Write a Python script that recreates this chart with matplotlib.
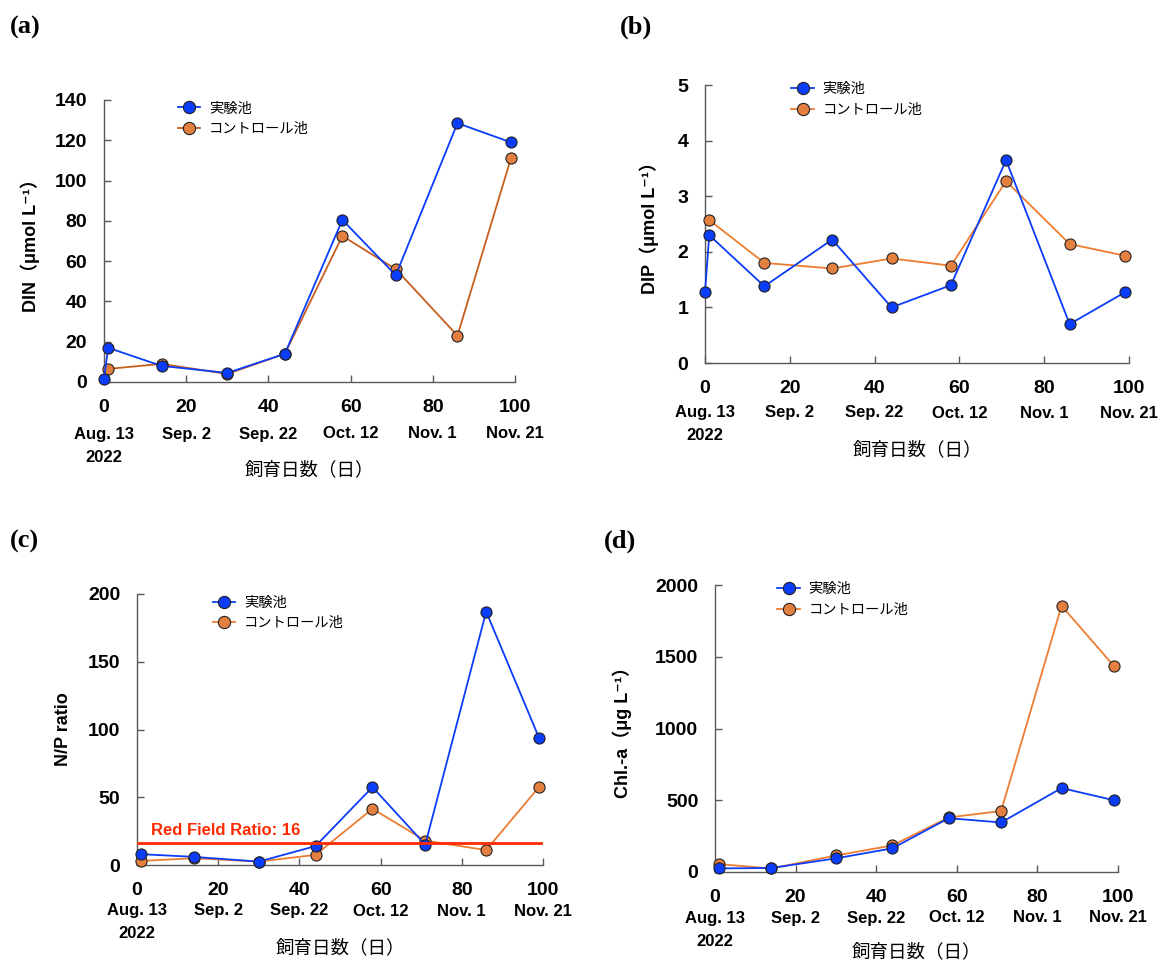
import matplotlib
matplotlib.use('Agg')
import matplotlib.pyplot as plt
from matplotlib.ticker import MultipleLocator

plt.rcParams['font.family'] = ['Liberation Sans', 'Noto Sans CJK JP', 'DejaVu Sans']

# sampling days (day 0 = Aug. 13 2022)
days_exp = [0, 1, 14, 30, 44, 58, 71, 86, 99]
days_ctl = [1, 14, 30, 44, 58, 71, 86, 99]
days_np = [1, 14, 30, 44, 58, 71, 86, 99]

din_exp = [1.5, 17, 8, 4.5, 14, 80.5, 53, 128.5, 119]
din_ctl = [6.5, 9, 4, 14, 72.5, 56, 23, 111]

dip_exp = [1.27, 2.3, 1.38, 2.22, 1.0, 1.4, 3.65, 0.7, 1.27]
dip_ctl = [2.57, 1.8, 1.7, 1.88, 1.75, 3.27, 2.14, 1.93]

np_exp = [8, 6, 2.5, 14, 57.5, 15, 187, 94]
np_ctl = [3, 5, 2.5, 7.5, 41.5, 18, 11, 57.5]

chl_exp = [25, 28, 95, 165, 375, 345, 585, 500]
chl_ctl = [55, 25, 115, 185, 380, 425, 1855, 1435]

redfield = 16

xticks = [0, 20, 40, 60, 80, 100]
date_labels = ['Aug. 13', 'Sep. 2', 'Sep. 22', 'Oct. 12', 'Nov. 1', 'Nov. 21']
year_label = '2022'

lab_exp = '実験池'
lab_ctl = 'コントロール池'
xlab = '飼育日数（日）'

BLUE = '#0B3CF7'
ORANGE = '#E3803F'
ORANGE_DARK = '#C85E1E'
ORANGE_LINE = '#ED7D31'
GRAY = '#595959'

W, H = 1161, 961
fig = plt.figure(figsize=(W / 100, H / 100), dpi=100)
PT = 0.72  # points per pixel at dpi 100


def px_axes(l, r, t, b):
    return fig.add_axes([l / W, 1 - b / H, (r - l) / W, (b - t) / H])


def panel(ax, xe, ye, xc, yc, ymax, ystep, ylabel, lab_px, ctl_line, leg_xy,
          date_px, xlab_px):
    ax.plot(xc, yc, '-o', color=ctl_line, mfc=ORANGE, mec='#222222', mew=0.8,
            ms=8, lw=1.3, clip_on=False, zorder=3, label=lab_ctl)
    ax.plot(xe, ye, '-o', color=BLUE, mfc=BLUE, mec='#222222', mew=0.8,
            ms=8, lw=1.3, clip_on=False, zorder=4, label=lab_exp)
    ax.set_xlim(0, 100)
    ax.set_ylim(0, ymax)
    ax.set_xticks(xticks)
    ax.yaxis.set_major_locator(MultipleLocator(ystep))
    for s in ['top', 'right']:
        ax.spines[s].set_visible(False)
    for s in ['left', 'bottom']:
        ax.spines[s].set_color(GRAY)
        ax.spines[s].set_linewidth(1.0)
    ax.tick_params(direction='in', length=5, width=1.0, color=GRAY,
                   labelsize=14)
    ax.tick_params(axis='y', pad=12)
    ax.tick_params(axis='x', pad=12)
    for lb in ax.get_xticklabels() + ax.get_yticklabels():
        lb.set_fontweight('bold')
    for x, d in zip(xticks, date_labels):
        ax.annotate(d, xy=(x, 0), xycoords=('data', 'axes fraction'),
                    xytext=(0, -date_px * PT), textcoords='offset points',
                    ha='center', va='center', fontsize=12, fontweight='bold')
    ax.annotate(year_label, xy=(xticks[0], 0), xycoords=('data', 'axes fraction'),
                xytext=(0, -(date_px + 23) * PT), textcoords='offset points',
                ha='center', va='center', fontsize=12, fontweight='bold')
    ax.annotate(xlab, xy=(0.5, 0), xycoords='axes fraction',
                xytext=(0, -xlab_px * PT), textcoords='offset points',
                ha='center', va='center', fontsize=13.3)
    ax.set_ylabel(ylabel, fontsize=13, fontweight='bold')
    bb = ax.get_position()
    ax.yaxis.set_label_coords(-lab_px / (bb.width * W), 0.5)
    h, l = ax.get_legend_handles_labels()
    ax.legend(h[::-1], l[::-1], loc='upper left', bbox_to_anchor=leg_xy,
              frameon=False, fontsize=10.3, handlelength=1.6, markerscale=1.1,
              handletextpad=0.6, labelspacing=0.45, borderaxespad=0)


ax_a = px_axes(104, 515, 100, 382)
panel(ax_a, days_exp, din_exp, days_ctl, din_ctl, 140, 20,
      'DIN（μmol L⁻¹）', 64, ORANGE_DARK, (0.165, 1.015), 52, 88)

ax_b = px_axes(705, 1129, 85, 363)
panel(ax_b, days_exp, dip_exp, days_ctl, dip_ctl, 5, 1,
      'DIP（μmol L⁻¹）', 46, ORANGE_LINE, (0.19, 1.03), 50, 87)

ax_c = px_axes(137, 543, 594, 865)
panel(ax_c, days_np, np_exp, days_np, np_ctl, 200, 50,
      'N/P ratio', 65, ORANGE_LINE, (0.172, 1.015), 46, 83)
ax_c.axhline(redfield, color='#FF2A00', lw=2.0, zorder=5)
ax_c.text(3.5, redfield + 4, 'Red Field Ratio: %d' % redfield, color='#FF2A00',
          fontsize=12, fontweight='bold', va='bottom', ha='left')

ax_d = px_axes(715, 1118, 585, 872)
panel(ax_d, days_np, chl_exp, days_np, chl_ctl, 2000, 500,
      'Chl.-a（μg L⁻¹）', 83, ORANGE_LINE, (0.14, 1.03), 46, 80)

for lab, x, y in [('(a)', 10, 27), ('(b)', 620, 27), ('(c)', 10, 541), ('(d)', 604, 541)]:
    fig.text(x / W, 1 - y / H, lab, family='Liberation Serif', fontsize=19,
             fontweight='bold', va='center', ha='left')

fig.savefig('out.png', dpi=100)
